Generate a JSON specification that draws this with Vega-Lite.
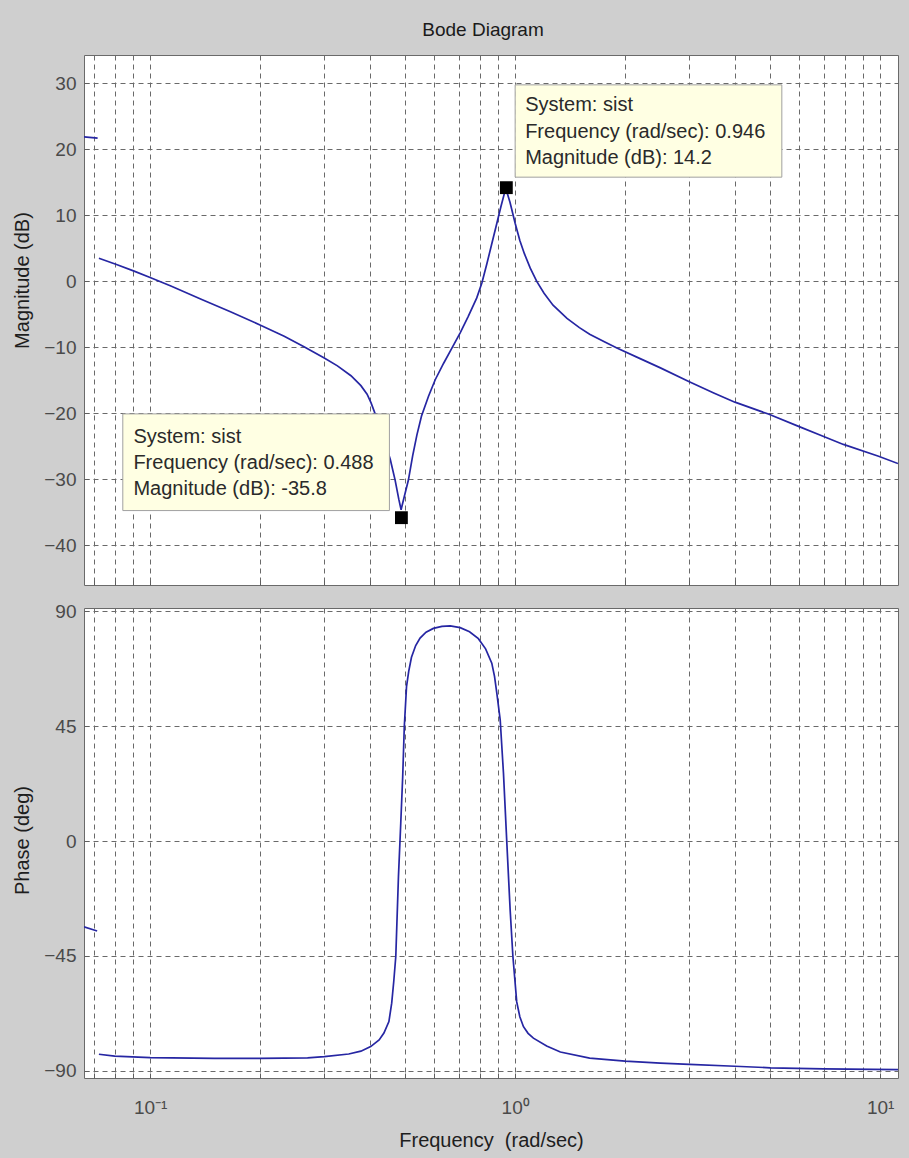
{
  "$schema": "https://vega.github.io/schema/vega-lite/v6.json",
  "autosize": "none",
  "background": "#cfcfcf",
  "padding": {"left": 84, "top": 55, "right": 825, "bottom": 1103},
  "datasets": {
    "mag": [
      {"seg": "a", "freq": 0.0659, "mag": 21.9}, {"seg": "a", "freq": 0.0718, "mag": 21.7},
      {"seg": "b", "freq": 0.0724, "mag": 3.5}, {"seg": "b", "freq": 0.0809, "mag": 2.55},
      {"seg": "b", "freq": 0.0904, "mag": 1.55}, {"seg": "b", "freq": 0.1, "mag": 0.6},
      {"seg": "b", "freq": 0.114, "mag": -0.7}, {"seg": "b", "freq": 0.138, "mag": -2.7},
      {"seg": "b", "freq": 0.166, "mag": -4.6}, {"seg": "b", "freq": 0.2, "mag": -6.6},
      {"seg": "b", "freq": 0.233, "mag": -8.3}, {"seg": "b", "freq": 0.264, "mag": -9.9},
      {"seg": "b", "freq": 0.3, "mag": -11.6}, {"seg": "b", "freq": 0.326, "mag": -12.8},
      {"seg": "b", "freq": 0.355, "mag": -14.3}, {"seg": "b", "freq": 0.378, "mag": -15.8},
      {"seg": "b", "freq": 0.393, "mag": -17.1}, {"seg": "b", "freq": 0.403, "mag": -18.4},
      {"seg": "b", "freq": 0.43, "mag": -22.6}, {"seg": "b", "freq": 0.455, "mag": -27.0},
      {"seg": "b", "freq": 0.469, "mag": -30.1}, {"seg": "b", "freq": 0.48, "mag": -33.0},
      {"seg": "b", "freq": 0.487, "mag": -34.6}, {"seg": "b", "freq": 0.497, "mag": -32.6},
      {"seg": "b", "freq": 0.51, "mag": -30.1}, {"seg": "b", "freq": 0.524, "mag": -26.4},
      {"seg": "b", "freq": 0.538, "mag": -23.3}, {"seg": "b", "freq": 0.554, "mag": -20.4},
      {"seg": "b", "freq": 0.579, "mag": -17.4}, {"seg": "b", "freq": 0.604, "mag": -14.9},
      {"seg": "b", "freq": 0.637, "mag": -12.4}, {"seg": "b", "freq": 0.671, "mag": -10.1},
      {"seg": "b", "freq": 0.707, "mag": -7.8}, {"seg": "b", "freq": 0.744, "mag": -5.3},
      {"seg": "b", "freq": 0.785, "mag": -2.5}, {"seg": "b", "freq": 0.811, "mag": -0.2},
      {"seg": "b", "freq": 0.837, "mag": 2.7}, {"seg": "b", "freq": 0.863, "mag": 5.7},
      {"seg": "b", "freq": 0.891, "mag": 8.8}, {"seg": "b", "freq": 0.914, "mag": 11.3},
      {"seg": "b", "freq": 0.933, "mag": 13.2}, {"seg": "b", "freq": 0.945, "mag": 13.9},
      {"seg": "b", "freq": 0.968, "mag": 12.0}, {"seg": "b", "freq": 1.0, "mag": 8.8},
      {"seg": "b", "freq": 1.03, "mag": 6.2}, {"seg": "b", "freq": 1.06, "mag": 4.2},
      {"seg": "b", "freq": 1.1, "mag": 2.0}, {"seg": "b", "freq": 1.146, "mag": 0.0},
      {"seg": "b", "freq": 1.2, "mag": -1.8}, {"seg": "b", "freq": 1.27, "mag": -3.6},
      {"seg": "b", "freq": 1.387, "mag": -5.6}, {"seg": "b", "freq": 1.5, "mag": -7.0},
      {"seg": "b", "freq": 1.6, "mag": -8.0}, {"seg": "b", "freq": 1.75, "mag": -9.1},
      {"seg": "b", "freq": 1.9, "mag": -10.1}, {"seg": "b", "freq": 2.2, "mag": -11.7},
      {"seg": "b", "freq": 2.5, "mag": -13.1}, {"seg": "b", "freq": 3.0, "mag": -15.2},
      {"seg": "b", "freq": 3.5, "mag": -16.9}, {"seg": "b", "freq": 4.0, "mag": -18.3},
      {"seg": "b", "freq": 4.94, "mag": -20.1}, {"seg": "b", "freq": 6.0, "mag": -22.0},
      {"seg": "b", "freq": 6.92, "mag": -23.4}, {"seg": "b", "freq": 7.93, "mag": -24.7},
      {"seg": "b", "freq": 9.9, "mag": -26.5}, {"seg": "b", "freq": 11.19, "mag": -27.6}
    ],
    "phase": [
      {"seg": "a", "freq": 0.0659, "phase": -33.6}, {"seg": "a", "freq": 0.0716, "phase": -35.2},
      {"seg": "b", "freq": 0.0724, "phase": -83.5}, {"seg": "b", "freq": 0.08, "phase": -84.2},
      {"seg": "b", "freq": 0.1, "phase": -84.8}, {"seg": "b", "freq": 0.15, "phase": -85.1},
      {"seg": "b", "freq": 0.2, "phase": -85.1}, {"seg": "b", "freq": 0.27, "phase": -84.9},
      {"seg": "b", "freq": 0.3, "phase": -84.4}, {"seg": "b", "freq": 0.35, "phase": -83.4},
      {"seg": "b", "freq": 0.378, "phase": -82.3}, {"seg": "b", "freq": 0.402, "phase": -80.5},
      {"seg": "b", "freq": 0.424, "phase": -77.9}, {"seg": "b", "freq": 0.437, "phase": -75.2},
      {"seg": "b", "freq": 0.451, "phase": -70.7}, {"seg": "b", "freq": 0.459, "phase": -63.5},
      {"seg": "b", "freq": 0.465, "phase": -55.0}, {"seg": "b", "freq": 0.471, "phase": -45.2},
      {"seg": "b", "freq": 0.479, "phase": -13.9}, {"seg": "b", "freq": 0.486, "phase": 7.0},
      {"seg": "b", "freq": 0.492, "phase": 25.3}, {"seg": "b", "freq": 0.497, "phase": 44.9},
      {"seg": "b", "freq": 0.504, "phase": 60.5}, {"seg": "b", "freq": 0.511, "phase": 66.5},
      {"seg": "b", "freq": 0.52, "phase": 72.0}, {"seg": "b", "freq": 0.534, "phase": 76.6},
      {"seg": "b", "freq": 0.549, "phase": 79.5}, {"seg": "b", "freq": 0.57, "phase": 81.8},
      {"seg": "b", "freq": 0.597, "phase": 83.3}, {"seg": "b", "freq": 0.63, "phase": 84.1},
      {"seg": "b", "freq": 0.664, "phase": 84.3}, {"seg": "b", "freq": 0.707, "phase": 83.6},
      {"seg": "b", "freq": 0.75, "phase": 82.0}, {"seg": "b", "freq": 0.793, "phase": 79.3},
      {"seg": "b", "freq": 0.83, "phase": 75.3}, {"seg": "b", "freq": 0.863, "phase": 69.7},
      {"seg": "b", "freq": 0.878, "phase": 64.5}, {"seg": "b", "freq": 0.891, "phase": 57.9},
      {"seg": "b", "freq": 0.91, "phase": 47.5}, {"seg": "b", "freq": 0.929, "phase": 26.6},
      {"seg": "b", "freq": 0.949, "phase": -0.8}, {"seg": "b", "freq": 0.969, "phase": -27.0},
      {"seg": "b", "freq": 0.986, "phase": -45.2}, {"seg": "b", "freq": 1.01, "phase": -63.0},
      {"seg": "b", "freq": 1.03, "phase": -68.8}, {"seg": "b", "freq": 1.054, "phase": -72.7},
      {"seg": "b", "freq": 1.085, "phase": -75.3}, {"seg": "b", "freq": 1.122, "phase": -77.2},
      {"seg": "b", "freq": 1.22, "phase": -80.3}, {"seg": "b", "freq": 1.33, "phase": -82.6},
      {"seg": "b", "freq": 1.6, "phase": -85.0}, {"seg": "b", "freq": 2.0, "phase": -86.2},
      {"seg": "b", "freq": 2.5, "phase": -87.0}, {"seg": "b", "freq": 3.0, "phase": -87.5},
      {"seg": "b", "freq": 4.0, "phase": -88.2}, {"seg": "b", "freq": 5.0, "phase": -88.8},
      {"seg": "b", "freq": 7.0, "phase": -89.2}, {"seg": "b", "freq": 11.19, "phase": -89.5}
    ],
    "tips": [
      {"id": "peak", "freq": 0.946, "mag": 14.2, "tip": "System: sist\nFrequency (rad/sec): 0.946\nMagnitude (dB): 14.2"},
      {"id": "notch", "freq": 0.488, "mag": -35.8, "tip": "System: sist\nFrequency (rad/sec): 0.488\nMagnitude (dB): -35.8"}
    ]
  },
  "spacing": 23,
  "bounds": "flush",
  "vconcat": [
    {
      "width": 814,
      "height": 530,
      "title": {"text": "Bode Diagram", "frame": "group", "anchor": "middle", "dx": -8, "offset": 0, "baseline": "alphabetic", "fontSize": 19, "font": "Liberation Sans", "fontWeight": "normal", "color": "#1a1a1a"},
      "encoding": {
        "x": {"field": "freq", "type": "quantitative",
          "scale": {"type": "log", "domain": [0.0659, 11.19], "nice": false},
          "axis": {"values": [0.07, 0.08, 0.09, 0.1, 0.2, 0.3, 0.4, 0.5, 0.6, 0.7, 0.8, 0.9, 1, 2, 3, 4, 5, 6, 7, 8, 9, 10], "labels": false, "title": null}},
        "y": {"field": "mag", "type": "quantitative",
          "scale": {"domain": [-46, 34.3], "nice": false, "zero": false},
          "axis": {"values": [-40, -30, -20, -10, 0, 10, 20, 30], "title": "Magnitude (dB)", "titleX": -62, "titleY": 225, "titleBaseline": "middle", "labelPadding": 13}}
      },
      "layer": [
        {"data": {"name": "mag"}, "mark": {"type": "line", "color": "#2626a3", "strokeWidth": 1.7, "clip": true}, "encoding": {"detail": {"field": "seg"}}},
        {"data": {"name": "tips"}, "transform": [{"filter": "datum.id === 'peak'"}],
          "mark": {"type": "rect", "fill": "#ffffe3", "stroke": "#a0a0a0", "strokeWidth": 1, "xOffset": 8.8, "x2Offset": 275.5, "yOffset": -102.8, "y2Offset": -10.5},
          "encoding": {"x2": {"field": "freq"}, "y2": {"field": "mag"}}},
        {"data": {"name": "tips"}, "transform": [{"filter": "datum.id === 'notch'"}],
          "mark": {"type": "rect", "fill": "#ffffe3", "stroke": "#a0a0a0", "strokeWidth": 1, "xOffset": -278.6, "x2Offset": -12, "yOffset": -103.8, "y2Offset": -7.1},
          "encoding": {"x2": {"field": "freq"}, "y2": {"field": "mag"}}},
        {"data": {"name": "tips"}, "transform": [{"filter": "datum.id === 'peak'"}],
          "mark": {"type": "text", "align": "left", "baseline": "top", "dx": 18.8, "dy": -92.3, "lineBreak": "\n", "lineHeight": 26.4, "font": "Liberation Sans", "fontSize": 20, "color": "#2a2a2a"},
          "encoding": {"text": {"field": "tip"}}},
        {"data": {"name": "tips"}, "transform": [{"filter": "datum.id === 'notch'"}],
          "mark": {"type": "text", "align": "left", "baseline": "top", "dx": -268, "dy": -90.3, "lineBreak": "\n", "lineHeight": 25.8, "font": "Liberation Sans", "fontSize": 20, "color": "#2a2a2a"},
          "encoding": {"text": {"field": "tip"}}},
        {"data": {"name": "tips"}, "mark": {"type": "point", "shape": "square", "filled": true, "color": "black", "size": 165, "opacity": 1}}
      ]
    },
    {
      "width": 814,
      "height": 470,
      "data": {"name": "phase"},
      "mark": {"type": "line", "color": "#2626a3", "strokeWidth": 1.7, "clip": true},
      "encoding": {
        "x": {"field": "freq", "type": "quantitative",
          "scale": {"type": "log", "domain": [0.0659, 11.19], "nice": false},
          "axis": {"values": [0.07, 0.08, 0.09, 0.1, 0.2, 0.3, 0.4, 0.5, 0.6, 0.7, 0.8, 0.9, 1, 2, 3, 4, 5, 6, 7, 8, 9, 10],
            "labelExpr": "datum.value === 0.1 ? '10⁻¹' : datum.value === 1 ? '10⁰' : datum.value === 10 ? '10¹' : ''",
            "labelPadding": 25, "labelOverlap": false, "labelFlush": false,
            "title": "Frequency \u00a0(rad/sec)", "titleY": 68, "titleBaseline": "alphabetic"}},
        "y": {"field": "phase", "type": "quantitative",
          "scale": {"domain": [-92.8, 91.3], "nice": false, "zero": false},
          "axis": {"values": [-90, -45, 0, 45, 90], "title": "Phase (deg)", "titleX": -62, "titleY": 232, "titleBaseline": "middle", "labelPadding": 13}},
        "detail": {"field": "seg"}
      }
    }
  ],
  "config": {
    "view": {"stroke": "#6a6a6a", "strokeWidth": 1, "fill": "white"},
    "axis": {
      "domain": false,
      "grid": true,
      "gridColor": "#6a6a6a",
      "gridDash": [5, 4],
      "gridWidth": 1,
      "gridOpacity": 1,
      "ticks": true,
      "tickColor": "#5e5e5e",
      "tickSize": -5,
      "labelFont": "Liberation Sans",
      "labelFontSize": 19,
      "labelColor": "#4a4a4a",
      "labelOverlap": false,
      "titleFont": "Liberation Sans",
      "titleFontSize": 20,
      "titleFontWeight": "normal",
      "titleColor": "#1e1e1e"
    }
  }
}
